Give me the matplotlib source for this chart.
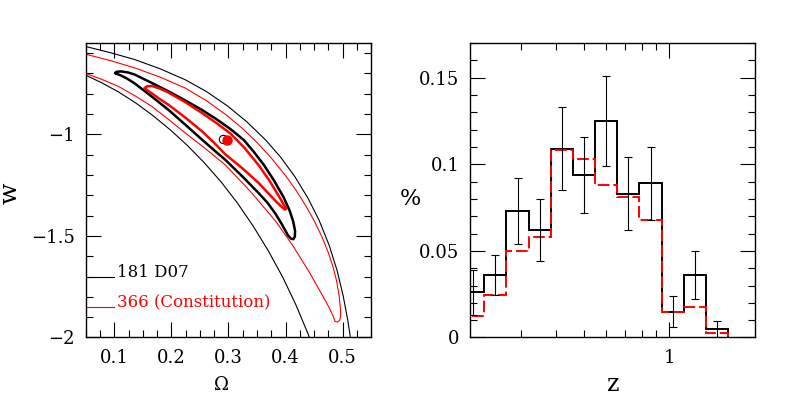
import numpy as np
import matplotlib
matplotlib.use("Agg")
import matplotlib.pyplot as plt
from matplotlib.ticker import MultipleLocator, FixedLocator, FuncFormatter, NullFormatter

plt.rcParams['font.family'] = ['DejaVu Serif']

# ---- left panel: confidence contours in (Omega, w) ----
# D07 (181 SNe), outer contour: two open branches
d07_out_up_om = [0.0476, 0.0918, 0.1359, 0.1800, 0.2241, 0.2612, 0.2982, 0.3317, 0.3653, 0.3917,
                 0.4164, 0.4394, 0.4588, 0.4765, 0.4906, 0.5012, 0.5091, 0.5153]
d07_out_up_w = [-0.566, -0.597, -0.632, -0.677, -0.731, -0.789, -0.860, -0.937, -1.028, -1.113,
                -1.208, -1.314, -1.422, -1.545, -1.671, -1.795, -1.913, -2.026]
d07_out_lo_om = [0.0476, 0.0776, 0.1076, 0.1376, 0.1676, 0.1976, 0.2276, 0.2576, 0.2876, 0.3159,
                 0.3441, 0.3706, 0.3953, 0.4182, 0.4394, 0.4571]
d07_out_lo_w = [-0.706, -0.746, -0.792, -0.846, -0.908, -0.977, -1.054, -1.140, -1.236, -1.339,
                -1.455, -1.577, -1.704, -1.839, -1.981, -2.114]
# D07 inner contour (closed)
d07_in_om = [0.1018, 0.1032, 0.1112, 0.1235, 0.1359, 0.1641, 0.1946, 0.2241, 0.2536, 0.2788, 0.3035,
             0.3270, 0.3441, 0.3617, 0.3794, 0.3970, 0.4076, 0.4138, 0.4168, 0.4164, 0.4138, 0.4094,
             0.4041, 0.3935, 0.3829, 0.3688, 0.3535, 0.3247, 0.2947, 0.2735, 0.2536, 0.2241, 0.1946,
             0.1641, 0.1359, 0.1218, 0.1112, 0.1050, 0.1018]
d07_in_w = [-0.698, -0.692, -0.690, -0.695, -0.706, -0.745, -0.788, -0.833, -0.880, -0.925, -0.974,
            -1.028, -1.085, -1.149, -1.225, -1.311, -1.378, -1.432, -1.476, -1.503, -1.516, -1.513,
            -1.496, -1.442, -1.393, -1.338, -1.291, -1.208, -1.126, -1.075, -1.026, -0.952, -0.879,
            -0.811, -0.750, -0.725, -0.710, -0.703, -0.698]

# Constitution (366 SNe), outer contour
con_out_om = [0.0476, 0.0918, 0.1359, 0.1800, 0.2241, 0.2612, 0.2982, 0.3229, 0.3476, 0.3741, 0.4006,
              0.4182, 0.4359, 0.4500, 0.4641, 0.4747, 0.4835, 0.4897, 0.4941, 0.4967, 0.4967, 0.4950,
              0.4914, 0.4870, 0.4835, 0.4774, 0.4694, 0.4606, 0.4417, 0.4129, 0.3829, 0.3388, 0.2947,
              0.2594, 0.2241, 0.1946, 0.1653, 0.1359, 0.1064, 0.0776, 0.0476]
con_out_w = [-0.604, -0.636, -0.673, -0.718, -0.772, -0.834, -0.909, -0.967, -1.033, -1.113, -1.205,
             -1.274, -1.353, -1.424, -1.505, -1.579, -1.653, -1.722, -1.795, -1.869, -1.897, -1.915,
             -1.924, -1.921, -1.895, -1.858, -1.816, -1.772, -1.678, -1.548, -1.428, -1.282, -1.151,
             -1.070, -0.993, -0.926, -0.862, -0.810, -0.763, -0.729, -0.698]
# Constitution inner contour (closed)
con_in_om = [0.1535, 0.1571, 0.1659, 0.1782, 0.1946, 0.2241, 0.2536, 0.2788, 0.3035, 0.3282, 0.3535,
             0.3723, 0.3887, 0.3970, 0.4015, 0.3988, 0.3917, 0.3829, 0.3688, 0.3535, 0.3247, 0.2947,
             0.2735, 0.2536, 0.2241, 0.1946, 0.1782, 0.1659, 0.1579, 0.1535]
con_in_w = [-0.772, -0.763, -0.762, -0.773, -0.794, -0.841, -0.895, -0.944, -0.996, -1.067, -1.154,
            -1.230, -1.306, -1.346, -1.365, -1.370, -1.353, -1.329, -1.287, -1.241, -1.168, -1.099,
            -1.038, -0.985, -0.917, -0.854, -0.824, -0.799, -0.784, -0.772]

# best-fit points
d07_best = (0.290, -1.024)
con_best = (0.298, -1.028)

# ---- right panel: redshift distributions ----
z_edges = [0.187, 0.224, 0.267, 0.321, 0.385, 0.458, 0.549, 0.655, 0.785, 0.940, 1.123, 1.345, 1.611]
frac_d07 = [0.026, 0.036, 0.073, 0.062, 0.109, 0.094, 0.125, 0.083, 0.089, 0.015, 0.036, 0.005]
err_d07 = [0.013, 0.0115, 0.019, 0.018, 0.024, 0.022, 0.026, 0.021, 0.021, 0.009, 0.014, 0.0045]
frac_con = [0.0125, 0.0245, 0.050, 0.058, 0.108, 0.103, 0.088, 0.081, 0.068, 0.0145, 0.0177, 0.0027]

RED = '#ff0000'
fs_tick = 13

fig = plt.figure(figsize=(7.97, 3.95), dpi=100)
ax1 = fig.add_axes([0.1079, 0.1456, 0.3576, 0.7456])
ax2 = fig.add_axes([0.5903, 0.1456, 0.3570, 0.7456])

fmt = FuncFormatter(lambda v, p: f"{v:g}".replace("-", "\u2212"))

for ax in (ax1, ax2):
    ax.tick_params(which='both', direction='in', top=True, right=True, labelsize=fs_tick, width=0.8)
    ax.tick_params(which='major', length=10.5, pad=8)
    ax.tick_params(which='minor', length=5)
    for s in ax.spines.values():
        s.set_linewidth(1.0)

# left panel
ax1.plot(d07_out_up_om, d07_out_up_w, color='black', lw=0.8)
ax1.plot(d07_out_lo_om, d07_out_lo_w, color='black', lw=0.8)
ax1.plot(con_out_om, con_out_w, color=RED, lw=0.8)
ax1.plot(d07_in_om, d07_in_w, color='black', lw=1.8, solid_joinstyle='round')
ax1.plot(con_in_om, con_in_w, color=RED, lw=1.8, solid_joinstyle='round')
ax1.plot(*d07_best, 'o', mfc='none', mec='black', ms=6, mew=0.8)
ax1.plot(*con_best, 'o', color=RED, ms=6.5)

ax1.set_xlim(0.05, 0.55)
ax1.set_ylim(-2.0, -0.55)
ax1.xaxis.set_major_locator(MultipleLocator(0.1))
ax1.xaxis.set_minor_locator(MultipleLocator(0.025))
ax1.yaxis.set_major_locator(MultipleLocator(0.5))
ax1.yaxis.set_minor_locator(MultipleLocator(0.1))
ax1.xaxis.set_major_formatter(fmt)
ax1.yaxis.set_major_formatter(fmt)

# legend drawn by hand, mongo style
ax1.plot([0, 0.098], [0.2044, 0.2044], color='black', lw=0.8, transform=ax1.transAxes)
ax1.text(0.108, 0.2044, '181 D07', transform=ax1.transAxes, fontsize=12, va='baseline')
ax1.plot([0, 0.098], [0.1036, 0.1036], color=RED, lw=0.8, transform=ax1.transAxes)
ax1.text(0.108, 0.1036, '366 (Constitution)', transform=ax1.transAxes, fontsize=12,
         va='baseline', color=RED)

# right panel
ax2.stairs(frac_d07, z_edges, color='black', lw=1.4)
ax2.stairs(frac_con, z_edges, color=RED, lw=1.4, linestyle=(0, (6, 2)))
e = np.array(z_edges)
zc = np.sqrt(e[:-1] * e[1:])
ax2.errorbar(zc, frac_d07, yerr=err_d07, fmt='none', ecolor='black', elinewidth=0.8,
             capsize=3, capthick=0.8)

ax2.set_xscale('log')
ax2.set_xlim(0.2, 2.0)
ax2.set_ylim(0, 0.17)
ax2.xaxis.set_major_locator(FixedLocator([1]))
ax2.xaxis.set_minor_locator(FixedLocator([0.3, 0.4, 0.5, 0.6, 0.7, 0.8, 0.9]))
ax2.xaxis.set_major_formatter(fmt)
ax2.xaxis.set_minor_formatter(NullFormatter())
ax2.yaxis.set_major_locator(MultipleLocator(0.05))
ax2.yaxis.set_minor_locator(MultipleLocator(0.01))
ax2.yaxis.set_major_formatter(fmt)

# axis labels
fig.text(10 / 797, 1 - 193 / 395, 'w', rotation=90, fontsize=18, ha='center', va='center')
fig.text(410.5 / 797, 1 - 199 / 395, '%', fontsize=16, ha='center', va='center')
fig.text(221.7 / 797, 1 - 376 / 395, '\u03a9', fontsize=13, ha='center', va='top')
fig.text(613.3 / 797, 1 - 391 / 395, 'z', fontsize=17, ha='center', va='baseline')

fig.savefig('out.png', dpi=100)
